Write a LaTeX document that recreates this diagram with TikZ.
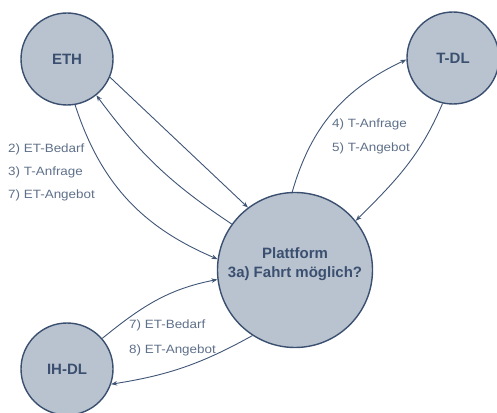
\documentclass[tikz,border=0pt]{standalone}
\usepackage{fontspec}
\setmainfont{Liberation Sans}
\newfontfamily\schrittfont[FakeStretch=1.12]{Liberation Sans}
\usetikzlibrary{arrows.meta,positioning}
\definecolor{knotfill}{HTML}{B9C3CF}
\definecolor{knotrand}{HTML}{3B5070}
\definecolor{pfeil}{HTML}{3F5575}
\definecolor{schrift}{HTML}{5E7089}

\begin{document}
\begin{tikzpicture}[x=1pt,y=1pt,>={Stealth[length=6pt,width=4.5pt]},
  akteur/.style={circle,draw=knotrand,line width=1.4pt,fill=knotfill,text=knotrand,
    font=\bfseries\fontsize{15}{19}\selectfont,align=center,inner sep=0pt,minimum size=92pt},
  fluss/.style={->,draw=pfeil,line width=0.9pt},
  schritt/.style={text=schrift,align=left,anchor=west,inner sep=0pt}]
\useasboundingbox (0,0) rectangle (497,412);
\node[akteur] (eth)  at (67,353) {ETH};
\node[akteur] (tdl)  at (453,354) {T-DL};
\node[akteur] (ihdl) at (67,43) {IH-DL};
\node[akteur,minimum size=155pt,
  label={[font=\bfseries\fontsize{15}{19}\selectfont,text=knotrand,align=center,yshift=6pt]center:{Plattform\\3a) Fahrt möglich?}}]
  (platt) at (295,142) {};
\draw[fluss] (eth.-23) -- (platt.127);
\draw[fluss] (platt.144) to[bend left=10] (eth.-51);
\draw[fluss] (eth.-80) to[out=-72,in=157] (platt.172);
\draw[fluss] (ihdl.41) to[out=39,in=191] (platt.-173);
\draw[fluss] (platt.237) to[out=209,in=9] (ihdl.-19);
\draw[fluss] (platt.92) to[out=74,in=205] (tdl.182);
\draw[fluss] (tdl.-103) to[out=-113,in=45] (platt.39);
\node[schritt,font=\schrittfont\fontsize{12}{23}\selectfont] (ethtext) at (8,240)
  {2) ET-Bedarf\\3) T-Anfrage\\7) ET-Angebot};
\node[schritt,font=\schrittfont\fontsize{12}{24}\selectfont] (tdltext) at (332,276)
  {4) T-Anfrage\\5) T-Angebot};
\node[schritt,font=\schrittfont\fontsize{12}{25}\selectfont] (ihtext) at (129,74.5)
  {7) ET-Bedarf\\8) ET-Angebot};
\end{tikzpicture}
\end{document}
